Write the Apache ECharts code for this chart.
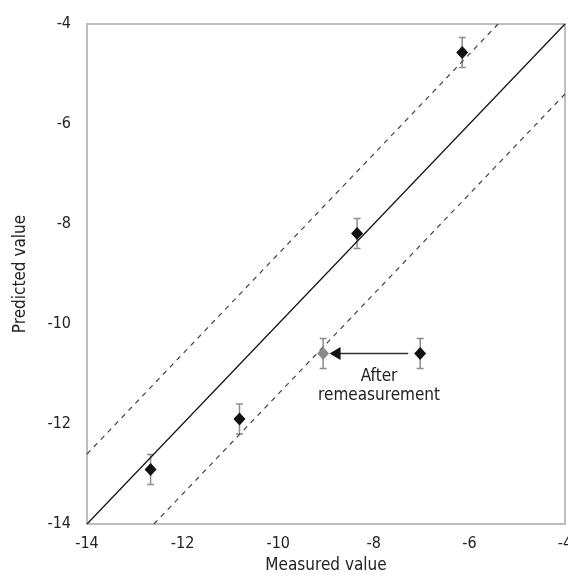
<!DOCTYPE html>
<html>
<head>
<meta charset="utf-8">
<script src="https://cdn.jsdelivr.net/npm/echarts@6/dist/echarts.min.js"></script>
<style>
  html, body { margin: 0; padding: 0; background: #fff; }
  #chart { width: 568px; height: 585px; }
</style>
</head>
<body>
<div id="chart"></div>
<script>
// measured vs predicted, black points
var measured = [-12.67, -10.81, -8.35, -6.15, -7.03];
var predicted = [-12.91, -11.9, -8.19, -4.57, -10.59];
var errors = [0.3, 0.3, 0.3, 0.3, 0.3];
// the point after remeasurement (grey)
var remeasured = [-9.06];
var remeasuredPred = [-10.59];
var remeasuredErr = [0.3];
// identity line and +/- band
var identityLine = [[-14, -14], [-4, -4]];
var upperBand = [[-14, -12.6], [-5.4, -4]];
var lowerBand = [[-12.6, -14], [-4, -5.4]];
// arrow from old to new position
var arrowFrom = [-7.28, -10.59];
var arrowTo = [-8.81, -10.59];
var noteAt = [-7.89, -11.24];
var noteText = 'After\nremeasurement';

var font = '"DejaVu Sans Condensed", "Liberation Sans Narrow", "Noto Sans", sans-serif';

function pts(xs, ys) {
  var out = [];
  for (var i = 0; i < xs.length; i++) out.push([xs[i], ys[i]]);
  return out;
}
function errData(xs, ys, es) {
  var out = [];
  for (var i = 0; i < xs.length; i++) out.push([xs[i], ys[i] - es[i], ys[i] + es[i]]);
  return out;
}
function errRender(params, api) {
  var x = api.value(0);
  var lo = api.coord([x, api.value(1)]);
  var hi = api.coord([x, api.value(2)]);
  var w = 3.5;
  var st = { stroke: '#8c8c8c', lineWidth: 1.5 };
  return {
    type: 'group',
    children: [
      { type: 'line', shape: { x1: lo[0], y1: lo[1], x2: hi[0], y2: hi[1] }, style: st },
      { type: 'line', shape: { x1: lo[0] - w, y1: lo[1], x2: lo[0] + w, y2: lo[1] }, style: st },
      { type: 'line', shape: { x1: hi[0] - w, y1: hi[1], x2: hi[0] + w, y2: hi[1] }, style: st }
    ]
  };
}

var chart = echarts.init(document.getElementById('chart'));
var option = {
  animation: false,
  textStyle: { fontFamily: font },
  grid: {
    left: 87, top: 24, right: 3, bottom: 61,
    outerBoundsMode: 'none', containLabel: false,
    show: true, borderColor: '#bdbdbd', borderWidth: 2
  },
  xAxis: {
    type: 'value', min: -14, max: -4, interval: 2,
    name: 'Measured value', nameLocation: 'middle', nameGap: 31,
    nameTextStyle: { fontSize: 17, color: '#222', fontFamily: font },
    axisLine: { show: false }, axisTick: { show: false }, splitLine: { show: false },
    axisLabel: { fontSize: 16, color: '#222', margin: 12, fontFamily: font }
  },
  yAxis: {
    type: 'value', min: -14, max: -4, interval: 2,
    name: 'Predicted value', nameLocation: 'middle', nameGap: 58,
    nameTextStyle: { fontSize: 17, color: '#222', fontFamily: font },
    axisLine: { show: false }, axisTick: { show: false }, splitLine: { show: false },
    axisLabel: { fontSize: 16, color: '#222', margin: 16, fontFamily: font }
  },
  series: [
    {
      type: 'line', data: identityLine, symbol: 'none', silent: true,
      lineStyle: { color: '#111', width: 1.2 }
    },
    {
      type: 'line', data: upperBand, symbol: 'none', silent: true,
      lineStyle: { color: '#444', width: 1.2, type: [5, 5] }
    },
    {
      type: 'line', data: lowerBand, symbol: 'none', silent: true,
      lineStyle: { color: '#444', width: 1.2, type: [5, 5] }
    },
    {
      type: 'custom', renderItem: errRender, data: errData(measured, predicted, errors), z: 3
    },
    {
      type: 'custom', renderItem: errRender, data: errData(remeasured, remeasuredPred, remeasuredErr), z: 3
    },
    {
      type: 'line', data: [arrowFrom, arrowTo], symbol: 'none', silent: true, z: 4,
      lineStyle: { color: '#333', width: 1.5 },
      markLine: {
        silent: true, symbol: ['none', 'triangle'], symbolSize: [13, 11],
        lineStyle: { color: '#111', width: 0, type: 'solid' },
        label: { show: false },
        data: [[{ coord: arrowFrom }, { coord: arrowTo }]]
      }
    },
    {
      type: 'scatter', data: pts(measured, predicted), symbol: 'diamond', symbolSize: [12, 13], z: 5,
      itemStyle: { color: '#111', opacity: 1 }
    },
    {
      type: 'scatter', data: pts(remeasured, remeasuredPred), symbol: 'diamond', symbolSize: [12, 13], z: 5,
      itemStyle: { color: '#8c8c8c', opacity: 1 }
    },
    {
      type: 'scatter', data: [noteAt], symbolSize: 0, silent: true,
      itemStyle: { color: '#222', opacity: 1 },
      label: {
        show: true, position: 'inside', formatter: noteText,
        fontSize: 17, color: '#222', lineHeight: 19, fontFamily: font, align: 'center',
        textBorderWidth: 0, textBorderColor: 'transparent'
      }
    }
  ]
};
chart.setOption(option);
</script>
</body>
</html>
